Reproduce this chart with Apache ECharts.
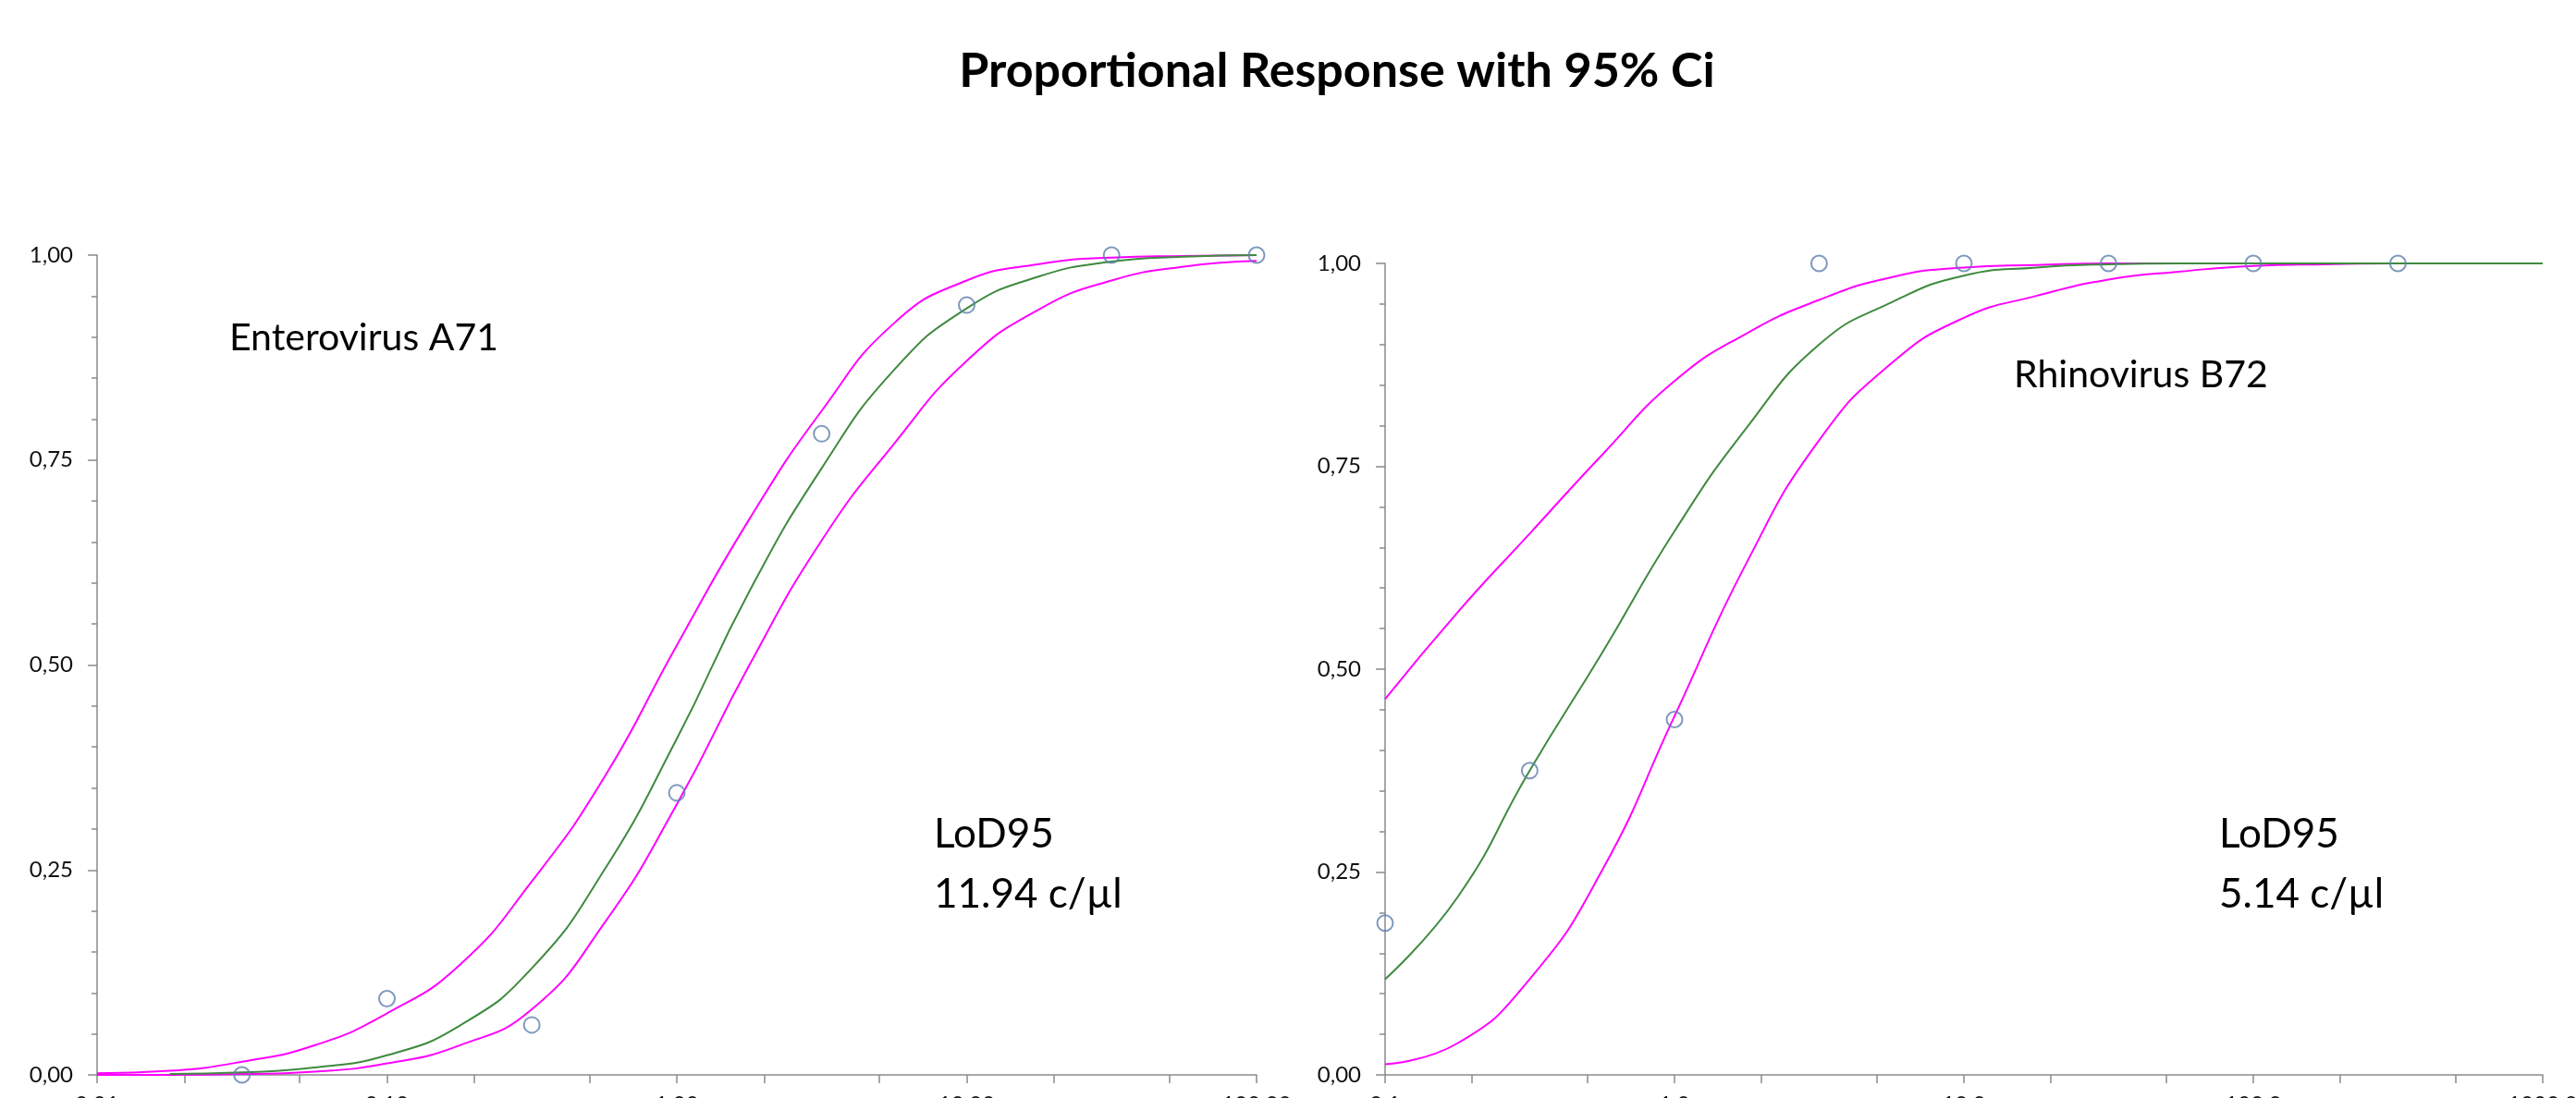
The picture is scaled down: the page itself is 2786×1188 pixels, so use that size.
<!DOCTYPE html>
<html><head><meta charset="utf-8">
<script src="https://cdn.jsdelivr.net/npm/echarts@6/dist/echarts.min.js"></script>
<style>html,body{margin:0;padding:0;background:#fff}#c{width:2786px;height:1188px}</style>
</head><body><div id="c"></div>
<script>
// ---------- data ----------
const titleText = 'Proportional Response with 95% Ci';
const leftName = 'Enterovirus A71';
const rightName = 'Rhinovirus B72';
const lodTitle = 'LoD95';
const leftLod = '11.94 c/\u00b5l';
const rightLod = '5.14 c/\u00b5l';

// left chart (Enterovirus A71)
const leftX     = [0.01, 0.0178, 0.0316, 0.0562, 0.1, 0.178, 0.316, 0.562, 1, 1.78, 3.16, 5.62, 10, 17.8, 31.6, 56.2, 100];
const leftFit   = [null, 0.001, 0.003, 0.009, 0.024, 0.060, 0.130, 0.250, 0.410, 0.590, 0.740, 0.860, 0.935, 0.974, 0.992, 0.998, 1.000];
const leftUpper = [0.002, 0.005, 0.016, 0.036, 0.075, 0.134, 0.236, 0.363, 0.524, 0.678, 0.810, 0.917, 0.969, 0.989, 0.997, 0.999, 1.000];
const leftLower = [0.000, 0.000, 0.001, 0.004, 0.014, 0.036, 0.080, 0.185, 0.330, 0.500, 0.652, 0.770, 0.871, 0.934, 0.969, 0.986, 0.993];
const leftPtsX  = [0.0316, 0.1, 0.316, 1, 3.16, 10, 31.6, 100];
const leftPtsY  = [0.000, 0.093, 0.061, 0.344, 0.782, 0.939, 1.000, 1.000];

// right chart (Rhinovirus B72)
const rightX     = [0.1, 0.178, 0.316, 0.562, 1, 1.78, 3.16, 5.62, 10, 17.8, 31.6, 56.2, 100, 178, 316, 562, 1000];
const rightFit   = [0.118, 0.219, 0.375, 0.520, 0.670, 0.798, 0.900, 0.952, 0.985, 0.995, 0.999, 1.000, 1.000, 1.000, 1.000, 1.000, 1.000];
const rightUpper = [0.463, 0.570, 0.667, 0.764, 0.855, 0.914, 0.955, 0.983, 0.995, 0.998, 1.000, 1.000, 1.000, 1.000, 1.000, 1.000, 1.000];
const rightLower = [0.013, 0.039, 0.118, 0.252, 0.442, 0.632, 0.782, 0.877, 0.933, 0.960, 0.980, 0.990, 0.997, 0.999, 1.000, 1.000, 1.000];
const rightPtsX  = [0.1, 0.316, 1, 3.16, 10, 31.6, 100, 316];
const rightPtsY  = [0.187, 0.375, 0.438, 1.000, 1.000, 1.000, 1.000, 1.000];

// axis ticks / labels
const leftXTickVals  = [0.01, 0.02, 0.05, 0.1, 0.2, 0.5, 1, 2, 5, 10, 20, 50, 100];
const leftXLabelVals = [0.01, 0.1, 1, 10, 100];
const leftXLabels    = ['0.01', '0.10', '1.00', '10.00', '100.00'];
const rightXTickVals  = [0.1, 0.2, 0.5, 1, 2, 5, 10, 20, 50, 100, 200, 500, 1000];
const rightXLabelVals = [0.1, 1, 10, 100, 1000];
const rightXLabels    = ['0.1', '1.0', '10.0', '100.0', '1000.0'];
const yLabels = ['0,00', '0,25', '0,50', '0,75', '1,00'];

// ---------- styling ----------
const FONT = 'Lato';
const AX = '#8a8a8a';
const PINK = '#ff00ff';
const GREEN = '#3f8a3f';
const PT = '#5f7fad';

function zip(xs, ys) { return xs.map((x, i) => [x, ys[i]]); }
function lookup(vals, labels) {
  return v => { const i = vals.findIndex(t => Math.abs(t - v) / t < 1e-6); return i >= 0 ? labels[i] : ''; };
}

function xAxis(idx, min, max, tickVals, labelVals, labels) {
  return {
    type: 'log', logBase: 10, gridIndex: idx, min: min, max: max,
    axisLine: { show: true, onZero: false, lineStyle: { color: AX, width: 1.5 } },
    axisTick: { show: true, length: 9, customValues: tickVals, lineStyle: { color: AX, width: 1.5 } },
    minorTick: { show: false },
    axisLabel: { customValues: labelVals, formatter: lookup(labelVals, labels), margin: 20,
                 fontFamily: FONT, fontSize: 24, color: '#111' },
    splitLine: { show: false }
  };
}
function yAxis(idx) {
  return {
    type: 'value', gridIndex: idx, min: 0, max: 1, interval: 0.25,
    axisLine: { show: true, lineStyle: { color: AX, width: 1.5 } },
    axisTick: { show: true, length: 10, lineStyle: { color: AX, width: 1.5 } },
    minorTick: { show: true, splitNumber: 5, length: 6, lineStyle: { color: AX, width: 1.5 } },
    axisLabel: { formatter: v => yLabels[Math.round(v / 0.25)], margin: 26,
                 fontFamily: FONT, fontSize: 24, color: '#111' },
    splitLine: { show: false }, minorSplitLine: { show: false }
  };
}
function line(idx, xs, ys, color) {
  return {
    type: 'line', xAxisIndex: idx, yAxisIndex: idx, data: zip(xs, ys),
    symbol: 'none', showSymbol: false, smooth: 0.5,
    lineStyle: { color: color, width: 2 }, z: 2, silent: true
  };
}
function pts(idx, xs, ys) {
  return {
    type: 'scatter', xAxisIndex: idx, yAxisIndex: idx, data: zip(xs, ys),
    symbol: 'circle', symbolSize: 17, clip: false,
    itemStyle: { color: 'rgba(255,255,255,0)', borderColor: PT, borderWidth: 2 }, z: 5
  };
}
function txt(x, y, text, size, bold, align) {
  return { type: 'text', x: x, y: y, z: 10,
    style: { text: text, fontFamily: FONT, fontSize: size, fontWeight: bold ? 'bold' : 'normal',
             fill: '#000', align: align || 'left', verticalAlign: 'middle' } };
}

const chart = echarts.init(document.getElementById('c'), null, { renderer: 'canvas' });
chart.setOption({
  animation: false,
  backgroundColor: '#fff',
  grid: [
    { left: 105, top: 276, width: 1254, height: 887, containLabel: false, outerBoundsMode: 'none' },
    { left: 1498, top: 285, width: 1252, height: 878, containLabel: false, outerBoundsMode: 'none' }
  ],
  xAxis: [
    xAxis(0, 0.01, 100, leftXTickVals, leftXLabelVals, leftXLabels),
    xAxis(1, 0.1, 1000, rightXTickVals, rightXLabelVals, rightXLabels)
  ],
  yAxis: [yAxis(0), yAxis(1)],
  series: [
    line(0, leftX, leftUpper, PINK),
    line(0, leftX, leftLower, PINK),
    line(0, leftX, leftFit, GREEN),
    pts(0, leftPtsX, leftPtsY),
    line(1, rightX, rightUpper, PINK),
    line(1, rightX, rightLower, PINK),
    line(1, rightX, rightFit, GREEN),
    pts(1, rightPtsX, rightPtsY)
  ],
  graphic: [
    txt(1446, 77, titleText, 52, true, 'center'),
    txt(248, 366, leftName, 41),
    txt(1010, 903, lodTitle, 44),
    txt(1010, 968, leftLod, 44),
    txt(2178, 406, rightName, 41),
    txt(2400, 903, lodTitle, 44),
    txt(2400, 968, rightLod, 44)
  ]
});
</script>
</body></html>
